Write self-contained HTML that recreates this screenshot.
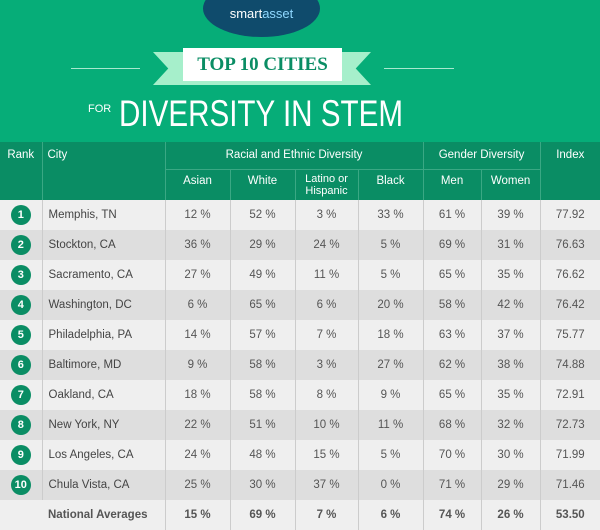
<!DOCTYPE html>
<html><head><style>
body{margin:0;width:600px;height:530px;overflow:hidden;font-family:"Liberation Sans",sans-serif;background:#06ad78}
.hdr{position:absolute;left:0;top:0;width:600px;height:142px;background:#06ad78}
table{position:absolute;left:0;top:142px;border-collapse:collapse;width:600px;table-layout:fixed}
td{font-size:11.5px;color:#555;text-align:center;padding:0;height:30px;border-left:1px solid #ccc}
th{background:#0a8d64;color:#fff;font-weight:normal;font-size:11.5px;border-left:1px solid #3aa884;padding:0}
tr.a td{background:#efefef}tr.b td{background:#dedede}
td.c{text-align:left;padding-left:6px;color:#444}
.n{display:inline-block;width:20px;height:20px;border-radius:50%;background:#0a8d64;color:#fff;font-weight:bold;line-height:20px;font-size:11px}
tr.f td{background:#efefef;font-weight:bold;color:#555}
</style></head><body>
<div class="hdr">
<div style="position:absolute;left:203px;top:-20px;width:117px;height:57px;border-radius:50%;background:#0f4b6c"></div>
<div style="position:absolute;left:203px;top:6px;width:117px;text-align:center;color:#fff;font-size:13px">smart<span style="color:#8fd8ff">asset</span></div>
<div style="position:absolute;left:71px;top:68px;width:69px;height:1px;background:#a8e8cf"></div>
<div style="position:absolute;left:384px;top:68px;width:70px;height:1px;background:#a8e8cf"></div>
<div style="position:absolute;left:153px;top:52px;width:218px;height:33px;background:#a6efcb;clip-path:polygon(0 0,100% 0,93% 50%,100% 100%,0 100%,7% 50%)"></div>
<div style="position:absolute;left:183px;top:48px;width:159px;height:33px;background:#fff;color:#0a8d64;font-family:'Liberation Serif',serif;font-weight:bold;font-size:19px;text-align:center;line-height:33px">TOP 10 CITIES</div>
<div style="position:absolute;left:88px;top:103px;color:#fff;font-size:11px">FOR</div>
<div style="position:absolute;left:119px;top:93px;color:#fff;font-size:37px;white-space:nowrap;transform:scaleX(0.8);transform-origin:0 0">DIVERSITY IN STEM</div>
</div>
<table>
<colgroup><col style="width:42px"><col style="width:123px"><col style="width:65px"><col style="width:65px"><col style="width:63px"><col style="width:65px"><col style="width:58px"><col style="width:59px"><col style="width:60px"></colgroup>
<tr style="height:27px"><th rowspan="2" style="vertical-align:top;padding-top:7px;border-left:none">Rank</th><th rowspan="2" style="text-align:left;padding-left:5px;vertical-align:top;padding-top:7px">City</th><th colspan="4" style="border-bottom:1px solid #3aa884">Racial and Ethnic Diversity</th><th colspan="2" style="border-bottom:1px solid #3aa884">Gender Diversity</th><th rowspan="2" style="vertical-align:top;padding-top:7px">Index</th></tr>
<tr style="height:31px"><th style="vertical-align:top;padding-top:5px">Asian</th><th style="vertical-align:top;padding-top:5px">White</th><th style="font-size:11px;line-height:12px">Latino or<br>Hispanic</th><th style="vertical-align:top;padding-top:5px">Black</th><th style="vertical-align:top;padding-top:5px">Men</th><th style="vertical-align:top;padding-top:5px">Women</th></tr>
<tr class="a"><td style="border:none"><span class="n">1</span></td><td class="c">Memphis, TN</td><td>12 %</td><td>52 %</td><td>3 %</td><td>33 %</td><td>61 %</td><td>39 %</td><td>77.92</td></tr>
<tr class="b"><td style="border:none"><span class="n">2</span></td><td class="c">Stockton, CA</td><td>36 %</td><td>29 %</td><td>24 %</td><td>5 %</td><td>69 %</td><td>31 %</td><td>76.63</td></tr>
<tr class="a"><td style="border:none"><span class="n">3</span></td><td class="c">Sacramento, CA</td><td>27 %</td><td>49 %</td><td>11 %</td><td>5 %</td><td>65 %</td><td>35 %</td><td>76.62</td></tr>
<tr class="b"><td style="border:none"><span class="n">4</span></td><td class="c">Washington, DC</td><td>6 %</td><td>65 %</td><td>6 %</td><td>20 %</td><td>58 %</td><td>42 %</td><td>76.42</td></tr>
<tr class="a"><td style="border:none"><span class="n">5</span></td><td class="c">Philadelphia, PA</td><td>14 %</td><td>57 %</td><td>7 %</td><td>18 %</td><td>63 %</td><td>37 %</td><td>75.77</td></tr>
<tr class="b"><td style="border:none"><span class="n">6</span></td><td class="c">Baltimore, MD</td><td>9 %</td><td>58 %</td><td>3 %</td><td>27 %</td><td>62 %</td><td>38 %</td><td>74.88</td></tr>
<tr class="a"><td style="border:none"><span class="n">7</span></td><td class="c">Oakland, CA</td><td>18 %</td><td>58 %</td><td>8 %</td><td>9 %</td><td>65 %</td><td>35 %</td><td>72.91</td></tr>
<tr class="b"><td style="border:none"><span class="n">8</span></td><td class="c">New York, NY</td><td>22 %</td><td>51 %</td><td>10 %</td><td>11 %</td><td>68 %</td><td>32 %</td><td>72.73</td></tr>
<tr class="a"><td style="border:none"><span class="n">9</span></td><td class="c">Los Angeles, CA</td><td>24 %</td><td>48 %</td><td>15 %</td><td>5 %</td><td>70 %</td><td>30 %</td><td>71.99</td></tr>
<tr class="b"><td style="border:none"><span class="n">10</span></td><td class="c">Chula Vista, CA</td><td>25 %</td><td>30 %</td><td>37 %</td><td>0 %</td><td>71 %</td><td>29 %</td><td>71.46</td></tr>
<tr class="f"><td style="border:none"></td><td class="c" style="border:none;font-weight:bold;color:#555">National Averages</td><td>15 %</td><td>69 %</td><td>7 %</td><td>6 %</td><td>74 %</td><td>26 %</td><td>53.50</td></tr>
</table>
</body></html>
